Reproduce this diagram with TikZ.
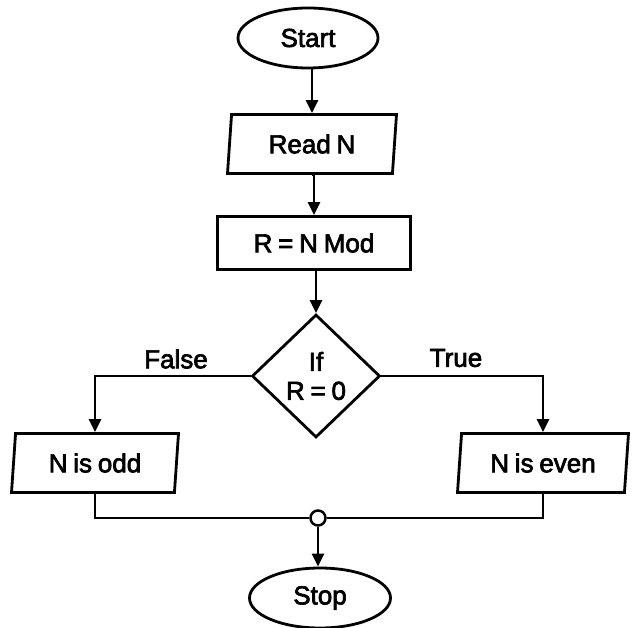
\documentclass[tikz,border=0pt]{standalone}
\usepackage{fontspec}
\setmainfont[FakeBold=2.6,WordSpace=0.8]{Liberation Sans}
\usetikzlibrary{shapes.geometric,arrows.meta}
\begin{document}
\begin{tikzpicture}[x=1pt,y=-1pt,
  every node/.style={font=\fontsize{26}{30}\selectfont},
  base/.style={draw=black,line width=2.8pt,inner sep=0pt},
  term/.style={base,ellipse,minimum width=140pt,minimum height=60pt},
  iobox/.style={base,trapezium,trapezium left angle=78,trapezium right angle=102,trapezium stretches body,minimum height=59pt},
  procbox/.style={base,rectangle,minimum width=193pt,minimum height=53pt},
  decbox/.style={base,diamond,minimum width=128pt,minimum height=123pt,align=center},
  conn/.style={line width=2.8pt},
  arr/.style={conn,-{Triangle[length=13pt,width=12pt]}},
  lbl/.style={inner sep=0pt}]
\useasboundingbox (0,0) rectangle (639,628);
\node[term] (start) at (308,38) {Start};
\node[iobox,minimum width=169pt] (read) at (312,144) {Read N};
\node[procbox] (mod) at (314,243) {R = N Mod};
\node[decbox] (dec) at (316,376) {If\\[-1pt]R = 0};
\node[iobox,minimum width=167pt] (odd) at (95,463) {N is odd};
\node[iobox,minimum width=171pt] (even) at (543,463) {N is even};
\node[draw=black,line width=2.5pt,circle,fill=white,minimum size=15pt,inner sep=0pt] (junc) at (318,518) {};
\node[term,minimum width=141pt] (stop) at (320,598) {Stop};
\node[lbl] (f) at (176,359) {False};
\node[lbl] (t) at (456,358) {True};
\draw[arr] (start.south -| read.north) -- (read.north);
\draw[arr] (read.south) -- (read.south -| mod.north) -- (mod.north);
\draw[arr] (mod.south -| dec.north) -- (dec.north);
\draw[arr] (dec.west) -- (dec.west -| odd.north) -- (odd.north);
\draw[arr] (dec.east) -- (dec.east -| even.north) -- (even.north);
\draw[conn] (odd.south) -- (odd.south |- junc.center) -- (junc.west);
\draw[conn] (even.south) -- (even.south |- junc.center) -- (junc.east);
\draw[arr] (junc.south) -- (junc.south |- stop.north);
\end{tikzpicture}
\end{document}
